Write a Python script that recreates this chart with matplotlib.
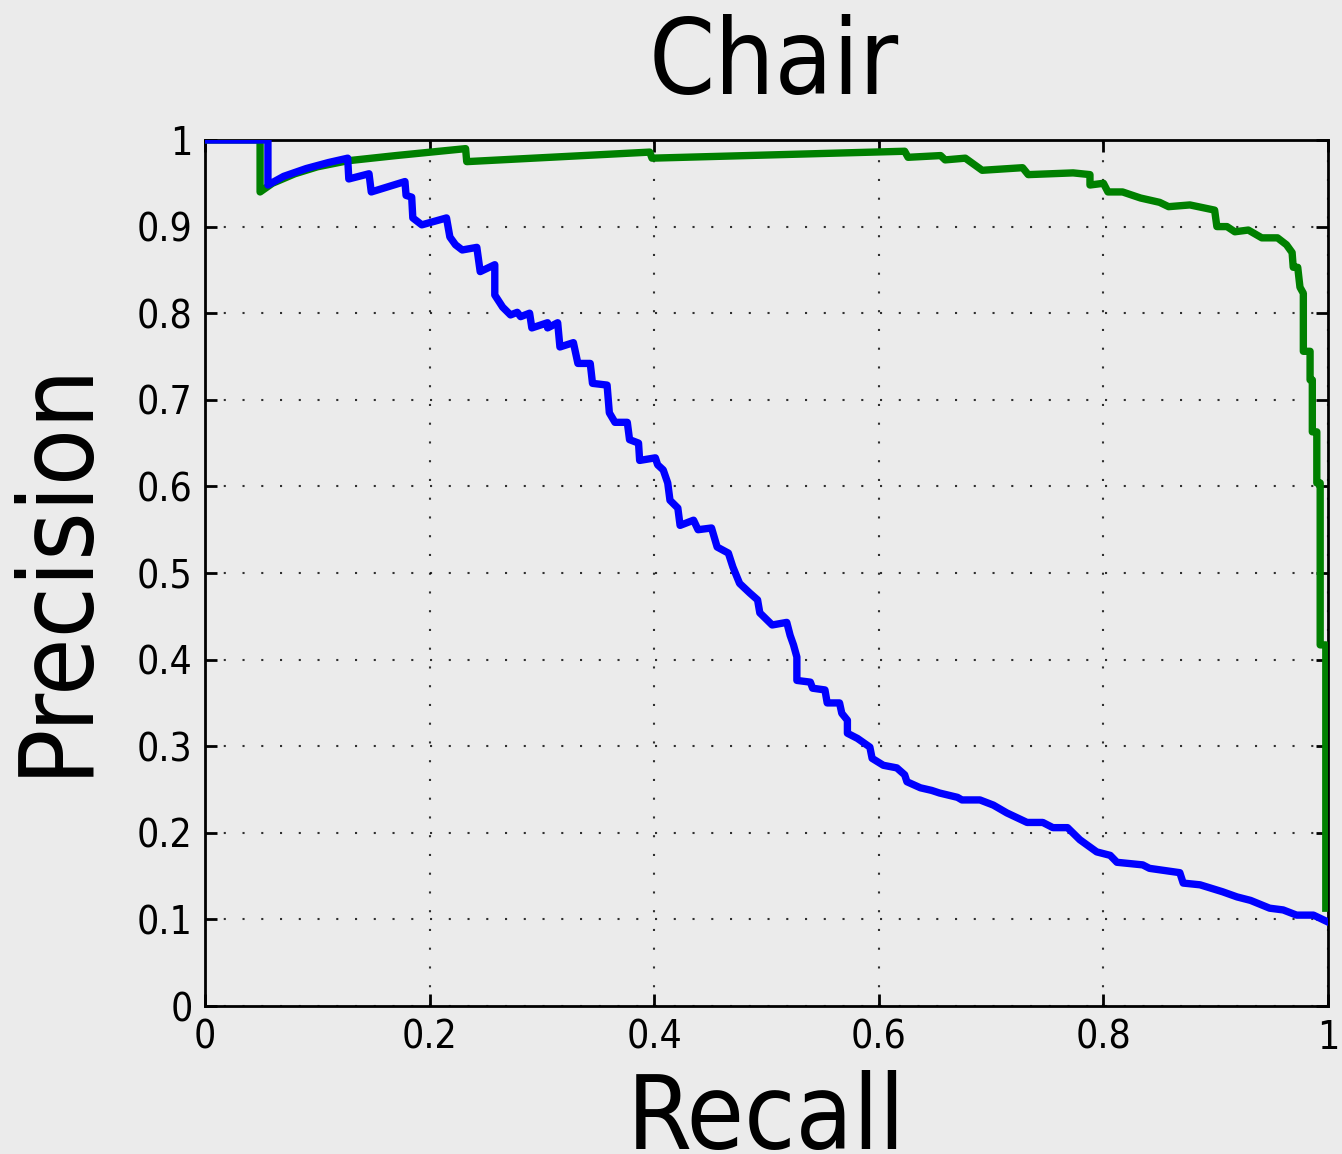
import numpy as np
import matplotlib
matplotlib.use('Agg')
import matplotlib.pyplot as plt

# precision / recall curves
blue_recall = [0.0, 0.056, 0.056, 0.07, 0.09, 0.11, 0.127, 0.128, 0.146, 0.148, 0.178,
               0.179, 0.184, 0.185, 0.193, 0.215, 0.218, 0.223, 0.229, 0.242, 0.245,
               0.258, 0.258, 0.265, 0.272, 0.278, 0.281, 0.289, 0.291, 0.305, 0.305,
               0.314, 0.316, 0.328, 0.332, 0.343, 0.345, 0.358, 0.360, 0.365, 0.376,
               0.378, 0.386, 0.387, 0.401, 0.403, 0.408, 0.412, 0.414, 0.421, 0.423,
               0.435, 0.439, 0.451, 0.456, 0.466, 0.470, 0.476, 0.485, 0.492, 0.494,
               0.505, 0.518, 0.521, 0.524, 0.527, 0.527, 0.539, 0.541, 0.552, 0.554,
               0.565, 0.567, 0.572, 0.572, 0.581, 0.592, 0.594, 0.604, 0.616, 0.623,
               0.625, 0.637, 0.647, 0.654, 0.670, 0.674, 0.690, 0.702, 0.714, 0.732,
               0.746, 0.755, 0.768, 0.779, 0.794, 0.806, 0.812, 0.835, 0.841, 0.868,
               0.871, 0.886, 0.906, 0.919, 0.931, 0.948, 0.960, 0.972, 0.987, 1.0]
blue_precision = [1.0, 1.0, 0.948, 0.958, 0.967, 0.974, 0.979, 0.955, 0.961, 0.940, 0.952,
                  0.936, 0.934, 0.910, 0.902, 0.910, 0.888, 0.879, 0.873, 0.876, 0.848,
                  0.856, 0.821, 0.807, 0.798, 0.801, 0.796, 0.800, 0.783, 0.789, 0.783,
                  0.789, 0.761, 0.766, 0.742, 0.742, 0.719, 0.717, 0.685, 0.674, 0.674,
                  0.654, 0.650, 0.630, 0.633, 0.625, 0.619, 0.604, 0.584, 0.575, 0.555,
                  0.561, 0.550, 0.552, 0.530, 0.523, 0.507, 0.488, 0.477, 0.469, 0.454,
                  0.440, 0.443, 0.428, 0.417, 0.403, 0.376, 0.374, 0.367, 0.365, 0.350,
                  0.350, 0.338, 0.330, 0.315, 0.309, 0.299, 0.286, 0.278, 0.275, 0.267,
                  0.259, 0.252, 0.249, 0.246, 0.241, 0.238, 0.238, 0.232, 0.223, 0.212,
                  0.212, 0.206, 0.206, 0.192, 0.178, 0.174, 0.166, 0.163, 0.159, 0.154,
                  0.142, 0.140, 0.132, 0.126, 0.122, 0.113, 0.111, 0.105, 0.105, 0.097]

green_recall = [0.0, 0.049, 0.049, 0.06, 0.08, 0.10, 0.127, 0.17, 0.232, 0.233, 0.396,
                0.398, 0.623, 0.626, 0.655, 0.659, 0.677, 0.692, 0.728, 0.733, 0.773,
                0.788, 0.788, 0.800, 0.804, 0.817, 0.833, 0.850, 0.858, 0.877, 0.899,
                0.901, 0.910, 0.917, 0.929, 0.941, 0.955, 0.963, 0.968, 0.969, 0.973,
                0.975, 0.978, 0.978, 0.984, 0.984, 0.986, 0.986, 0.990, 0.990, 0.993,
                0.993, 0.998, 0.998]
green_precision = [1.0, 1.0, 0.940, 0.950, 0.961, 0.969, 0.976, 0.982, 0.990, 0.975, 0.986,
                   0.979, 0.987, 0.980, 0.982, 0.977, 0.979, 0.965, 0.968, 0.960, 0.962,
                   0.960, 0.948, 0.950, 0.940, 0.940, 0.933, 0.928, 0.923, 0.925, 0.919,
                   0.900, 0.900, 0.894, 0.896, 0.887, 0.887, 0.879, 0.870, 0.853, 0.853,
                   0.830, 0.823, 0.756, 0.756, 0.723, 0.723, 0.663, 0.663, 0.604, 0.604,
                   0.417, 0.417, 0.113]

x_ticks = [0, 0.2, 0.4, 0.6, 0.8, 1.0]
x_tick_labels = ['0', '0.2', '0.4', '0.6', '0.8', '1']
y_ticks = [0, 0.1, 0.2, 0.3, 0.4, 0.5, 0.6, 0.7, 0.8, 0.9, 1.0]
y_tick_labels = ['0', '0.1', '0.2', '0.3', '0.4', '0.5', '0.6', '0.7', '0.8', '0.9', '1']

bg = '#ebebeb'
plt.rcParams['font.family'] = ['DejaVu Sans']
# the reference text is narrower than plain DejaVu Sans
plt.rcParams['font.stretch'] = 'condensed'

fig = plt.figure(figsize=(13.42, 11.54), dpi=100, facecolor=bg)
ax = fig.add_axes([0.1528, 0.1282, 0.8368, 0.7505], facecolor=bg)

ax.plot(green_recall, green_precision, color='#008000', linewidth=5.3, zorder=3)
ax.plot(blue_recall, blue_precision, color='#0000ff', linewidth=5.3, zorder=4)

ax.set_xlim(0, 1)
ax.set_ylim(0, 1)
ax.set_xticks(x_ticks)
ax.set_xticklabels(x_tick_labels)
ax.set_yticks(y_ticks)
ax.set_yticklabels(y_tick_labels)

ax.tick_params(direction='in', length=8.5, width=2, labelsize=28, pad=9,
               top=True, right=True)
for s in ax.spines.values():
    s.set_linewidth(2)

ax.grid(True, color='black', linestyle=(0, (1, 8)), linewidth=1.5, alpha=0.8)
ax.set_axisbelow(True)

ax.set_title('Chair', fontsize=76, pad=33, x=0.506)
ax.set_xlabel('Recall', fontsize=75)
ax.set_ylabel('Precision', fontsize=75)
ax.xaxis.set_label_coords(0.5, -0.074)
ax.yaxis.set_label_coords(-0.0877, 0.507)

fig.savefig('out.png', dpi=100, facecolor=bg)
